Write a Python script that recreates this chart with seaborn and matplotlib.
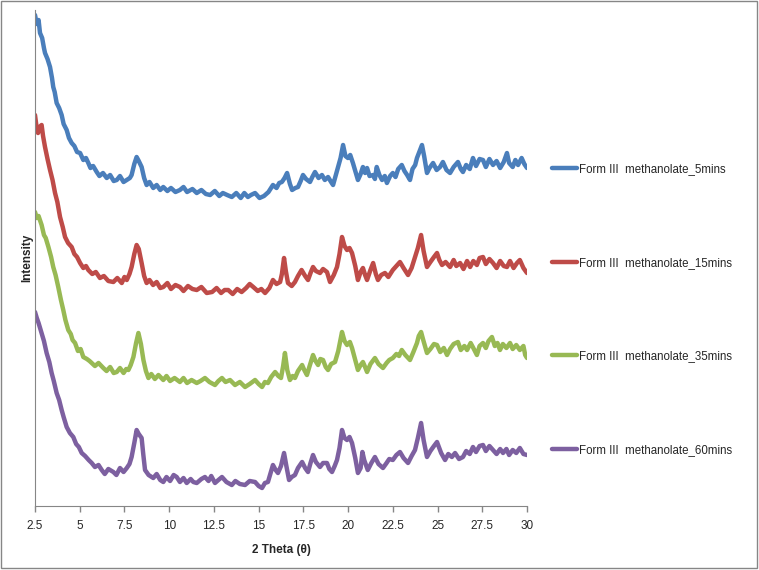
import pandas as pd
import seaborn as sns
from matplotlib import pyplot as plt
from matplotlib.patches import Rectangle

# values (arbitrary intensity units, curves already offset)
theta_5 = [2.5, 2.6, 2.7, 2.78, 2.9, 3.0, 3.06, 3.2, 3.34, 3.45, 3.52, 3.6, 3.71, 3.85, 3.99, 4.1,
           4.27, 4.4, 4.55, 4.7, 4.85, 5.02, 5.2, 5.35, 5.48, 5.6, 5.75, 5.95, 6.1, 6.3, 6.51, 6.7,
           6.9, 7.07, 7.25, 7.45, 7.63, 7.8, 7.9, 8.05, 8.18, 8.3, 8.46, 8.6, 8.74, 8.9, 9.11, 9.3,
           9.5, 9.67, 9.9, 10.1, 10.35, 10.6, 10.8, 11.0, 11.3, 11.54, 11.8, 12.05, 12.29, 12.55,
           12.8, 13.0, 13.24, 13.5, 13.75, 14.0, 14.2, 14.4, 14.57, 14.8, 15.05, 15.3, 15.55, 15.8,
           16.0, 16.15, 16.3, 16.45, 16.59, 16.75, 16.87, 17.05, 17.2, 17.35, 17.48, 17.65, 17.87,
           18.0, 18.15, 18.35, 18.54, 18.7, 18.88, 19.05, 19.16, 19.3, 19.44, 19.58, 19.72, 19.85,
           19.99, 20.12, 20.27, 20.4, 20.55, 20.7, 20.83, 20.95, 21.06, 21.2, 21.4, 21.5, 21.6,
           21.75, 21.9, 22.05, 22.17, 22.35, 22.5, 22.65, 22.8, 23.0, 23.15, 23.3, 23.46, 23.6,
           23.75, 23.85, 24.0, 24.13, 24.25, 24.41, 24.55, 24.75, 24.95, 25.14, 25.3, 25.5, 25.7,
           25.9, 26.14, 26.3, 26.42, 26.6, 26.8, 26.98, 27.15, 27.35, 27.54, 27.7, 27.9, 28.1,
           28.3, 28.5, 28.7, 28.88, 29.0, 29.2, 29.35, 29.5, 29.7, 29.85, 30.0]
int_5 = [491, 482, 486, 473, 468, 458, 453, 447, 439, 428, 419, 414, 403, 398, 391, 382,
         376, 368, 363, 360, 354, 353, 346, 348, 343, 338, 340, 334, 330, 333, 328, 331,
         325, 326, 330, 324, 326, 328, 331, 342, 349, 345, 339, 328, 321, 324, 318, 321,
         316, 319, 315, 318, 314, 316, 319, 314, 317, 313, 316, 312, 311, 315,
         310, 313, 311, 309, 313, 308, 313, 309, 311, 313, 308, 310, 314, 321,
         318, 323, 324, 328, 333, 322, 316, 318, 319, 325, 331, 327, 324,
         329, 334, 328, 331, 326, 329, 324, 321, 330, 339, 348, 361, 350,
         348, 351, 343, 335, 326, 332, 339, 333, 338, 330, 331, 327, 339,
         331, 326, 330, 323, 330, 333, 329, 337, 341, 335, 331, 326, 337,
         341, 348, 355, 361, 350, 333, 338, 343, 336, 339, 344, 336, 333,
         339, 344, 337, 334, 341, 337, 348, 340, 347, 346, 339, 347, 341,
         345, 338, 344, 353, 343, 339, 346, 341, 348, 342, 338]

theta_15 = [2.5, 2.58, 2.67, 2.75, 2.87, 2.95, 3.06, 3.2, 3.34, 3.48, 3.62, 3.75, 3.9, 4.05, 4.18,
            4.35, 4.55, 4.7, 4.85, 5.02, 5.2, 5.35, 5.48, 5.7, 5.9, 6.13, 6.35, 6.6, 6.88, 7.1,
            7.35, 7.5, 7.63, 7.78, 7.9, 8.05, 8.18, 8.3, 8.46, 8.6, 8.74, 8.9, 9.1, 9.3, 9.5,
            9.67, 9.9, 10.1, 10.35, 10.6, 10.8, 11.05, 11.3, 11.54, 11.8, 12.1, 12.4, 12.65, 12.9,
            13.1, 13.3, 13.55, 13.8, 14.05, 14.3, 14.5, 14.7, 14.95, 15.15, 15.36, 15.6, 15.8,
            16.0, 16.2, 16.3, 16.42, 16.52, 16.64, 16.85, 17.03, 17.2, 17.4, 17.6, 17.76, 17.9,
            18.04, 18.2, 18.43, 18.6, 18.82, 18.99, 19.2, 19.38, 19.52, 19.66, 19.8, 19.94, 20.08,
            20.22, 20.4, 20.55, 20.7, 20.83, 20.95, 21.06, 21.25, 21.4, 21.55, 21.67, 21.85,
            22.06, 22.25, 22.5, 22.7, 22.9, 23.1, 23.35, 23.55, 23.74, 23.9, 24.08, 24.22, 24.41,
            24.6, 24.8, 24.97, 25.1, 25.25, 25.45, 25.7, 25.9, 26.05, 26.26, 26.45, 26.65, 26.82,
            27.0, 27.2, 27.35, 27.54, 27.7, 27.9, 28.1, 28.3, 28.5, 28.7, 28.88, 29.05, 29.25,
            29.44, 29.6, 29.8, 30.0]
int_15 = [391, 380, 373, 379, 381, 370, 359, 347, 336, 326, 313, 304, 289, 279, 269,
          263, 259, 252, 249, 243, 238, 240, 236, 232, 234, 228, 230, 225, 224, 228,
          223, 229, 226, 232, 239, 252, 261, 257, 243, 230, 223, 226, 221, 224, 218,
          219, 223, 217, 221, 219, 215, 220, 217, 216, 219, 213, 214, 218, 213,
          216, 216, 212, 217, 214, 218, 222, 219, 215, 217, 213, 218, 226,
          222, 224, 232, 248, 235, 223, 220, 224, 230, 236, 230, 226, 233,
          239, 235, 233, 237, 234, 224, 231, 239, 252, 269, 260, 256, 258,
          253, 240, 226, 234, 238, 231, 226, 236, 243, 232, 226, 231,
          233, 229, 236, 240, 244, 238, 231, 238, 249, 258, 271, 255, 239,
          244, 249, 253, 246, 241, 244, 239, 246, 240, 243, 237, 245, 239,
          245, 241, 248, 249, 242, 247, 243, 238, 245, 240, 239, 245, 238,
          243, 246, 238, 233]

theta_35 = [2.5, 2.6, 2.7, 2.87, 3.0, 3.1, 3.25, 3.4, 3.52, 3.65, 3.8, 3.95, 4.08, 4.2, 4.36,
            4.5, 4.6, 4.74, 4.9, 5.05, 5.2, 5.4, 5.55, 5.67, 5.85, 6.05, 6.32, 6.5, 6.7, 6.9,
            7.07, 7.25, 7.45, 7.6, 7.72, 7.85, 8.0, 8.15, 8.28, 8.42, 8.56, 8.7, 8.84, 9.0, 9.2,
            9.4, 9.67, 9.85, 10.05, 10.3, 10.6, 10.8, 11.0, 11.25, 11.54, 11.75, 12.0, 12.25,
            12.56, 12.75, 12.95, 13.15, 13.4, 13.68, 13.95, 14.24, 14.5, 14.8, 15.0, 15.19, 15.35,
            15.52, 15.7, 15.92, 16.1, 16.25, 16.37, 16.47, 16.6, 16.75, 16.9, 17.03, 17.2, 17.43,
            17.55, 17.7, 17.85, 18.04, 18.18, 18.32, 18.45, 18.6, 18.75, 18.88, 19.05, 19.27,
            19.45, 19.66, 19.8, 19.94, 20.1, 20.22, 20.4, 20.55, 20.7, 20.83, 20.95, 21.06, 21.25,
            21.5, 21.7, 21.95, 22.15, 22.3, 22.5, 22.7, 22.85, 23.0, 23.2, 23.46, 23.65, 23.85,
            23.95, 24.08, 24.2, 24.41, 24.6, 24.8, 24.97, 25.15, 25.35, 25.53, 25.7, 25.9, 26.14,
            26.3, 26.5, 26.65, 26.85, 27.0, 27.2, 27.35, 27.54, 27.7, 27.85, 28.04, 28.2, 28.35,
            28.49, 28.65, 28.85, 29.05, 29.2, 29.4, 29.6, 29.8, 29.9, 30.0]
int_35 = [294, 288, 290, 281, 271, 268, 259, 249, 239, 231, 219, 206, 196, 186, 176,
          172, 166, 163, 155, 157, 149, 147, 145, 143, 140, 143, 138, 135, 139, 133,
          134, 138, 133, 137, 136, 141, 149, 163, 173, 162, 146, 135, 128, 132, 127,
          131, 126, 130, 125, 128, 124, 128, 123, 126, 123, 125, 128, 124,
          121, 125, 128, 124, 126, 121, 124, 119, 122, 126, 122, 119, 124,
          123, 129, 134, 130, 128, 140, 153, 136, 126, 130, 128, 135, 141,
          136, 131, 140, 151, 145, 141, 147, 146, 139, 136, 142, 144,
          155, 174, 165, 161, 164, 158, 146, 136, 141, 144, 139, 134, 142,
          148, 142, 138, 143, 146, 148, 152, 150, 156, 151, 146, 154, 163,
          170, 174, 166, 153, 157, 162, 161, 154, 158, 151, 157, 162, 164,
          156, 160, 156, 163, 158, 151, 160, 163, 158, 165, 169, 160, 163,
          156, 162, 158, 163, 157, 161, 156, 160, 151, 148]

theta_60 = [2.5, 2.6, 2.7, 2.87, 3.0, 3.15, 3.3, 3.43, 3.55, 3.71, 3.85, 3.99, 4.1, 4.27, 4.45,
            4.64, 4.8, 4.95, 5.11, 5.3, 5.5, 5.67, 5.85, 6.05, 6.23, 6.4, 6.6, 6.88, 7.05, 7.25,
            7.45, 7.63, 7.78, 7.9, 8.05, 8.18, 8.3, 8.46, 8.55, 8.65, 8.85, 9.11, 9.3, 9.5, 9.67,
            9.85, 10.05, 10.25, 10.42, 10.6, 10.8, 10.98, 11.2, 11.35, 11.54, 11.8, 12.0, 12.2,
            12.35, 12.56, 12.75, 12.95, 13.2, 13.5, 13.7, 13.95, 14.24, 14.5, 14.8, 15.0, 15.19,
            15.35, 15.52, 15.65, 15.8, 15.95, 16.08, 16.25, 16.42, 16.55, 16.7, 16.85, 17.03,
            17.2, 17.43, 17.6, 17.76, 17.9, 18.04, 18.2, 18.43, 18.6, 18.82, 18.95, 19.1, 19.25,
            19.38, 19.52, 19.66, 19.8, 19.94, 20.08, 20.22, 20.4, 20.55, 20.7, 20.8, 20.9, 21.1,
            21.3, 21.5, 21.7, 21.95, 22.15, 22.3, 22.5, 22.7, 22.9, 23.1, 23.35, 23.55, 23.74,
            23.9, 24.08, 24.22, 24.41, 24.6, 24.8, 24.97, 25.2, 25.42, 25.6, 25.8, 25.98, 26.2,
            26.42, 26.6, 26.8, 26.98, 27.15, 27.35, 27.54, 27.7, 27.9, 28.1, 28.3, 28.5, 28.66,
            28.85, 29.0, 29.2, 29.4, 29.6, 29.8, 30.0]
int_60 = [194, 188, 183, 173, 165, 153, 144, 133, 125, 113, 106, 96, 89, 79, 73,
          69, 62, 59, 53, 50, 46, 43, 39, 41, 36, 32, 37, 34, 31, 38,
          34, 38, 42, 49, 63, 76, 72, 68, 52, 36, 31, 28, 32, 26, 24,
          29, 25, 31, 29, 24, 28, 23, 27, 24, 23, 27, 29, 25,
          30, 23, 26, 29, 24, 21, 25, 22, 21, 25, 24, 20, 18,
          23, 24, 32, 41, 36, 33, 40, 53, 40, 26, 29, 31,
          38, 44, 38, 34, 43, 51, 44, 39, 43, 43, 37, 34, 40,
          46, 58, 76, 68, 66, 69, 63, 48, 33, 38, 54, 46, 36,
          43, 49, 42, 38, 43, 47, 46, 51, 54, 48, 43, 50, 56,
          68, 83, 66, 49, 55, 60, 64, 53, 46, 52, 49, 53, 47,
          49, 55, 52, 59, 54, 60, 61, 55, 60, 56, 52, 57, 53,
          57, 51, 56, 53, 58, 52, 51]

labels = ["Form III  methanolate_5mins", "Form III  methanolate_15mins",
          "Form III  methanolate_35mins", "Form III  methanolate_60mins"]
colors = ["#4A7EBB", "#BE4B48", "#98B954", "#7D60A0"]
xticks = [2.5, 5, 7.5, 10, 12.5, 15, 17.5, 20, 22.5, 25, 27.5, 30]


def get_df():
    parts = []
    for label, t, i in zip(labels, [theta_5, theta_15, theta_35, theta_60],
                           [int_5, int_15, int_35, int_60]):
        parts.append(pd.DataFrame({"2 Theta": t, "Intensity": i, "Sample": label}))
    return pd.concat(parts, ignore_index=True)


def main():
    df = get_df()
    sns.set_style("white")
    plt.rcParams['font.family'] = ['Liberation Sans', 'DejaVu Sans']

    fig = plt.figure(figsize=(7.59, 5.70), dpi=100)
    ax = fig.add_axes([35/759, 64/570, 492/759, 496/570])
    sns.lineplot(data=df, x="2 Theta", y="Intensity", hue="Sample", palette=colors,
                 estimator=None, sort=False, linewidth=3.2, ax=ax)

    ax.set_xlim(2.5, 30)
    ax.set_ylim(0, 496)
    ax.set_xticks(xticks)
    ax.set_xticklabels([f"{v:g}" for v in xticks], fontsize=8.5)
    ax.set_yticks([])
    ax.tick_params(axis='x', direction='out', length=4, width=1, color='#868686', pad=6, bottom=True)
    sns.despine(ax=ax)
    for s in ["left", "bottom"]:
        ax.spines[s].set_color('#868686')
    ax.set_xlabel("2 Theta (θ)", fontsize=8.5, fontweight='bold', labelpad=9)
    ax.set_ylabel("Intensity", fontsize=8.5, fontweight='bold', labelpad=1)

    ax.legend(loc='center left', bbox_to_anchor=(552/759, 0.457), bbox_transform=fig.transFigure,
              frameon=False, fontsize=8.3, handlelength=2.2, handletextpad=0.15,
              labelspacing=7.1, borderpad=0, borderaxespad=0)

    fig.patches.append(Rectangle((0.5/759, 2.5/570), 756.5/759, 567/570, transform=fig.transFigure,
                                 fill=False, edgecolor='#868686', linewidth=1))
    fig.savefig("out.png", dpi=100)


main()
